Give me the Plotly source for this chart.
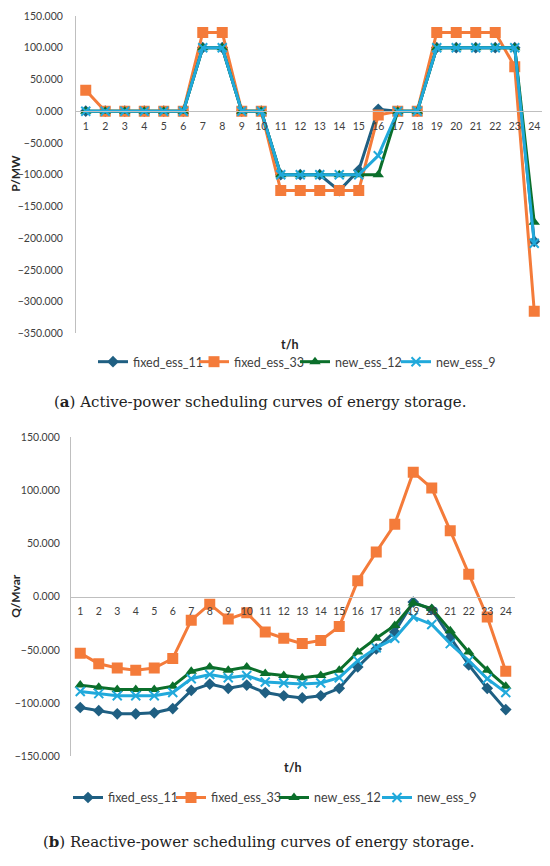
import plotly.graph_objects as go

# hours 1..24
hours = list(range(1, 25))

# (a) active power, MW
p_fixed_ess_11 = [0, 0, 0, 0, 0, 0, 100, 100, 0, 0, -100, -100, -100, -125, -93, 3,
                  0, 0, 100, 100, 100, 100, 100, -205]
p_fixed_ess_33 = [33, 0, 0, 0, 0, 0, 124, 124, 0, 0, -125, -125, -125, -125, -125, -6,
                  0, 0, 124, 124, 124, 124, 70, -315]
p_new_ess_12 = [0, 0, 0, 0, 0, 0, 100, 100, 0, 0, -100, -100, -100, -100, -100, -100,
                0, 0, 100, 100, 100, 100, 100, -175]
p_new_ess_9 = [0, 0, 0, 0, 0, 0, 100, 100, 0, 0, -100, -100, -100, -100, -100, -70,
               0, 0, 100, 100, 100, 100, 100, -208]

# (b) reactive power, Mvar
q_fixed_ess_11 = [-104, -107, -110, -110, -109, -105, -88, -82, -86, -83, -90, -93,
                  -95, -93, -86, -66, -49, -33, -5, -12, -38, -64, -86, -106]
q_fixed_ess_33 = [-53, -63, -67, -69, -67, -58, -22, -7, -21, -15, -33, -39,
                  -44, -41, -28, 15, 42, 68, 117, 102, 62, 21, -19, -70]
q_new_ess_12 = [-83, -85, -87, -87, -87, -84, -70, -66, -69, -66, -72, -74,
                -76, -74, -69, -52, -39, -27, -6, -11, -32, -52, -69, -84]
q_new_ess_9 = [-89, -91, -93, -93, -93, -90, -77, -73, -76, -74, -80, -81,
               -82, -81, -76, -60, -48, -39, -19, -26, -44, -60, -77, -90]

names = ["fixed_ess_11", "fixed_ess_33", "new_ess_12", "new_ess_9"]
colors = ["#1F5F82", "#F47B3A", "#0B6F2B", "#21A9DB"]
symbols = ["diamond", "square", "triangle-up", "x-thin"]
sizes = [9, 11, 10, 9]

# the page body adds an 8px margin, so the figure is drawn 8px in and 8px down
OFF = 8
W, H = 550 - OFF, 866 - OFF
px = lambda v: (v - OFF) / W
py = lambda v: 1 - (v - OFF) / H

fig = go.Figure()

for i, (yp, yq) in enumerate(zip([p_fixed_ess_11, p_fixed_ess_33, p_new_ess_12, p_new_ess_9],
                                  [q_fixed_ess_11, q_fixed_ess_33, q_new_ess_12, q_new_ess_9])):
    mk = dict(symbol=symbols[i], size=sizes[i], color=colors[i],
              line=dict(color=colors[i], width=2 if symbols[i] == "x-thin" else 0))
    fig.add_trace(go.Scatter(x=hours, y=yp, mode="lines+markers", name=names[i],
                             line=dict(color=colors[i], width=3), marker=mk,
                             xaxis="x", yaxis="y", legend="legend"))
    fig.add_trace(go.Scatter(x=hours, y=yq, mode="lines+markers", name=names[i],
                             line=dict(color=colors[i], width=3), marker=mk,
                             xaxis="x2", yaxis="y2", legend="legend2"))

top_dom = [py(332), py(10)]
bot_dom = [py(761), py(437)]
top_rng = [-350, 150]
bot_rng = [-150, 150]


def zero_pos(dom, rng):
    return dom[0] + (0 - rng[0]) / (rng[1] - rng[0]) * (dom[1] - dom[0])


tickfont = dict(family="Lato", size=10.5, color="#404040")
common_x = dict(range=[0.5, 24.5], tickvals=hours, showline=True, linecolor="#BFBFBF",
                linewidth=1, showgrid=False, zeroline=False, tickfont=tickfont,
                ticks="", anchor="free", ticklabelstandoff=5)
common_y = dict(showline=True, linecolor="#BFBFBF", linewidth=1, showgrid=False,
                zeroline=False, tickformat=".3f", dtick=50, tickfont=tickfont,
                ticks="")
legfont = dict(family="Lato", size=12.5, color="#404040")

fig.update_layout(
    width=W, height=H, margin=dict(l=0, r=0, t=0, b=0),
    paper_bgcolor="white", plot_bgcolor="white",
    xaxis=dict(common_x, domain=[px(76), px(544)], position=zero_pos(top_dom, top_rng)),
    yaxis=dict(common_y, domain=top_dom, range=top_rng, anchor="x", ticklabelstandoff=10),
    xaxis2=dict(common_x, domain=[px(71), px(515)], position=zero_pos(bot_dom, bot_rng)),
    yaxis2=dict(common_y, domain=bot_dom, range=bot_rng, anchor="x2", ticklabelstandoff=8),
    legend=dict(orientation="h", x=px(93), xanchor="left", y=py(361), yanchor="middle",
                font=legfont, entrywidth=56, itemwidth=30, tracegroupgap=0),
    legend2=dict(orientation="h", x=px(68), xanchor="left", y=py(803), yanchor="middle",
                 font=legfont, entrywidth=58, itemwidth=30, tracegroupgap=0),
    showlegend=True,
)

labfont = dict(family="Lato", size=12.5, color="#262626")
ylabfont = dict(family="Lato", size=12, color="#262626")
capfont = dict(family="DejaVu Serif", size=15, color="#222222")


def note(text, x, y, font, angle=0):
    fig.add_annotation(text=text, x=px(x), y=py(y), xref="paper", yref="paper",
                       xanchor="center", yanchor="middle", textangle=angle,
                       showarrow=False, font=font)


note("<b>P/MW</b>", 16, 170, ylabfont, -90)
note("<b>t/h</b>", 290, 343, labfont)
note("<b>Q/Mvar</b>", 16, 598, ylabfont, -90)
note("<b>t/h</b>", 293, 772, labfont)
note("(<b>a</b>) Active-power scheduling curves of energy storage.", 260, 402, capfont)
note("(<b>b</b>) Reactive-power scheduling curves of energy storage.", 259, 848, capfont)

fig.write_html("out.html")
